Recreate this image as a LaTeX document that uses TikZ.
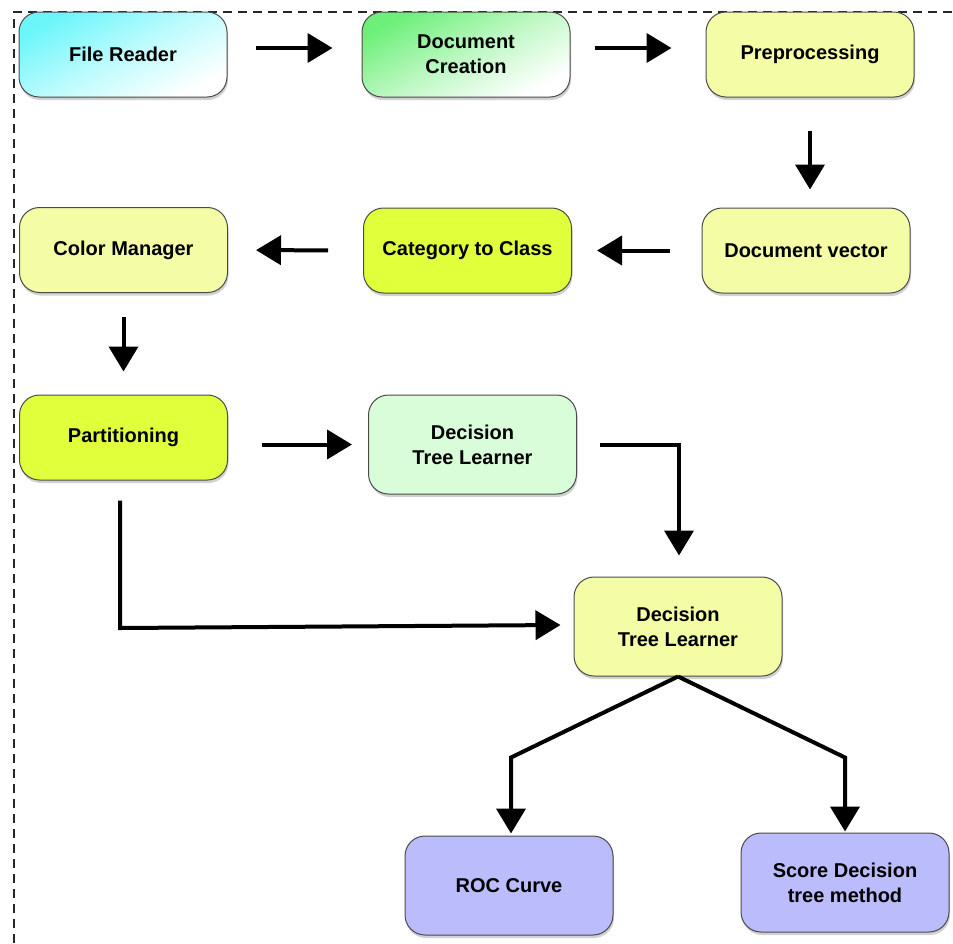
\documentclass[tikz,border=0pt]{standalone}
\usepackage{fontspec}
\setmainfont{Liberation Sans}
\usetikzlibrary{arrows.meta,shadows,calc}

\definecolor{paleyellow}{HTML}{F5FCA6}
\definecolor{limey}{HTML}{E1FF3B}
\definecolor{mintgreen}{HTML}{D9FDD9}
\definecolor{lavender}{HTML}{BBBCFC}
\definecolor{aquatop}{HTML}{6CF6FA}
\definecolor{greentop}{HTML}{6EEF7A}
\definecolor{edgegray}{HTML}{4A4A4A}

\tikzset{
  stage/.style={draw=edgegray, line width=1pt, rounded corners=20pt,
    minimum width=208pt, minimum height=85pt, align=center,
    font=\bfseries\fontsize{20}{25}\selectfont,
    drop shadow={shadow xshift=1pt, shadow yshift=-3pt, opacity=0.3, fill=black!60}},
  tall/.style={minimum height=99pt},
  fade/.style={top color=#1, bottom color=white, middle color=#1!45!white, shading angle=28},
  arr/.style={line width=4pt, -{Triangle[length=25pt,width=29pt]}},
  frame/.style={line width=1.5pt, black!85, dash pattern=on 9pt off 6pt}
}

\begin{document}
\begin{tikzpicture}[x=1pt, y=-1pt]
  \useasboundingbox (0,0) rectangle (953,943);

  % dashed outer frame (only top and left edges visible)
  \draw[frame] (14,943) -- (14,12) -- (953,12);

  % row 1
  \node[stage, fade=aquatop] (fr) at (123,54.5) {File Reader};
  \node[stage, fade=greentop] (dc) at (466,54.5) {Document\\Creation};
  \node[stage, fill=paleyellow] (pp) at (810,54.5) {Preprocessing};

  % row 2
  \node[stage, fill=paleyellow] (dv) at (806,250.5) {Document vector};
  \node[stage, fill=limey] (cc) at (467.5,250.5) {Category to Class};
  \node[stage, fill=paleyellow] (cm) at (123.5,250) {Color Manager};

  % row 3
  \node[stage, fill=limey] (pa) at (123.5,437.5) {Partitioning};
  \node[stage, tall, fill=mintgreen] (dt1) at (472.5,444.5) {Decision\\Tree Learner};

  % learner and outputs
  \node[stage, tall, fill=paleyellow] (dt2) at (678,626.5) {Decision\\Tree Learner};
  \node[stage, tall, fill=lavender] (roc) at (509,885.5) {ROC Curve};
  \node[stage, tall, fill=lavender] (sc) at (845,882.5) {Score Decision\\tree method};

  % connectors
  \draw[arr, shorten <=28pt, shorten >=29pt] ([yshift=6.5pt]fr.east) -- ([yshift=6.5pt]dc.west);
  \draw[arr, shorten <=24pt, shorten >=34pt] ([yshift=6.5pt]dc.east) -- ([yshift=6.5pt]pp.west);
  \draw[arr, shorten <=33pt, shorten >=18pt] (pp.south) -- (pp.south |- dv.north);
  \draw[arr, shorten <=32pt, shorten >=25pt] (dv.west) -- (cc.east);
  \draw[arr, shorten <=35pt, shorten >=28pt] (cc.west) -- (cm.east);
  \draw[arr, shorten <=23.5pt, shorten >=23pt] (cm.south) -- (cm.south |- pa.north);
  \draw[arr, shorten <=34pt, shorten >=16pt] ([yshift=-7pt]pa.east) -- (dt1.west);
  \draw[arr] ($(dt1.east)+(23,0)$) -- ($(dt2.north |- dt1.east)+(1,0)$) -- ($(dt2.north)+(1,-21)$);
  \draw[arr] ($(pa.south)+(-3.5,20)$) -- ($(pa.south |- dt2.west)+(-3.5,1.5)$) -- ($(dt2.west)+(-13,-1.5)$);
  \draw[arr] (dt2.south) -- ($(dt2.south -| roc.north)+(2,81)$) -- ($(roc.north)+(2,-2)$);
  \draw[arr] (dt2.south) -- ($(dt2.south -| sc.north)+(0,81)$) -- ($(sc.north)+(0,-1)$);
\end{tikzpicture}
\end{document}
